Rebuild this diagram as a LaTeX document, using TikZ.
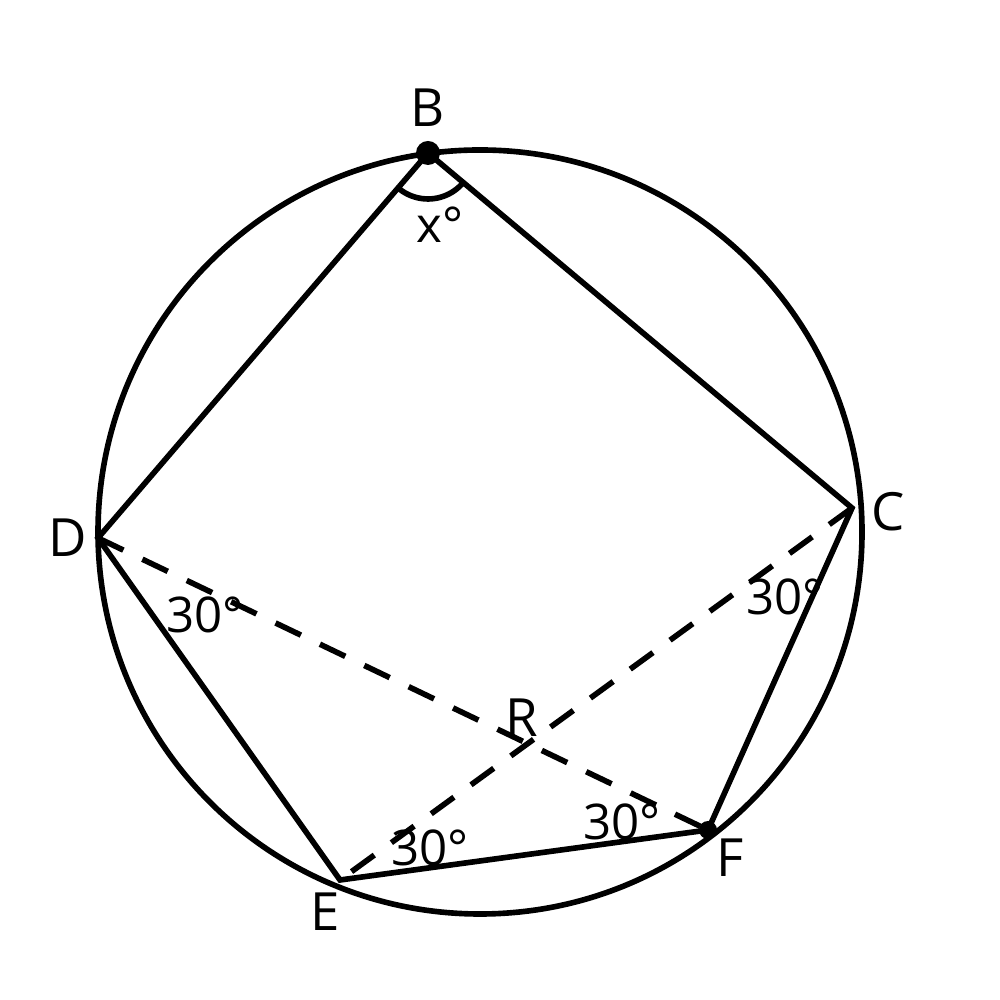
\documentclass[tikz,border=0pt]{standalone}
\usepackage{fontspec}
\setmainfont{Open Sans}
\begin{document}
\begin{tikzpicture}[line width=1.6pt,
    lbl/.style={font=\fontsize{15}{17}\selectfont},
    ang/.style={font=\fontsize{14}{16}\selectfont}]
    \useasboundingbox (0,0) rectangle (10,10);

    % the circle
    \draw (4.80,4.68) circle (3.82cm);

    % the points on the circle
    \coordinate (B) at (4.28,8.47);
    \coordinate (C) at (8.52,4.92);
    \coordinate (D) at (0.98,4.62);
    \coordinate (E) at (3.40,1.20);
    \coordinate (F) at (7.08,1.70);

    % the sides
    \draw (D) -- (B) -- (C) -- (F) -- (E) -- cycle;

    % the diagonals
    \draw[dashed, dash pattern=on 8pt off 6pt] (D) -- (F);
    \draw[dashed, dash pattern=on 8pt off 6pt] (C) -- (E);

    % the dots
    \fill (B) circle (0.12);
    \fill (F) circle (0.09);

    % the angle at B
    \draw (B) ++(229.4:0.46) arc (229.4:320.1:0.46);

    % the texts
    \node[lbl] (lB) at (4.28,8.92) {B};
    \node[lbl] (lC) at (8.88,4.88) {C};
    \node[lbl] (lD) at (0.68,4.62) {D};
    \node[lbl] (lE) at (3.25,0.88) {E};
    \node[lbl] (lF) at (7.30,1.42) {F};
    \node[lbl] (lR) at (5.22,2.82) {R};
    \node[ang] (ax) at (4.40,7.75) {x°};
    \node[ang] (aD) at (2.05,3.85) {30°};
    \node[ang] (aC) at (7.85,4.03) {30°};
    \node[ang] (aE) at (4.30,1.52) {30°};
    \node[ang] (aF) at (6.22,1.78) {30°};

\end{tikzpicture}
\end{document}
